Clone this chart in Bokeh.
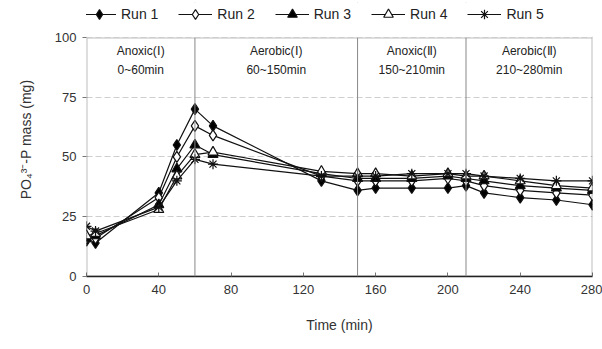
from bokeh.plotting import figure
from bokeh.models import Span, Label, Legend, LegendItem, FixedTicker, Range1d, ColumnDataSource, BoxAnnotation
from bokeh.embed import file_html
from bokeh.resources import INLINE

time = [0, 5, 40, 50, 60, 70, 130, 150, 160, 180, 200, 210, 220, 240, 260, 280]
run1 = [15, 14, 35, 55, 70, 63, 40, 36, 37, 37, 37, 38, 35, 33, 32, 30]
run2 = [16, 16, 33, 50, 63, 59, 42, 40, 40, 40, 41, 40, 38, 36, 35, 34]
run3 = [16, 17, 30, 45, 55, 51, 43, 41, 41, 41, 42, 41, 40, 38, 37, 36]
run4 = [17, 18, 28, 42, 51, 52, 44, 43, 43, 42, 43, 42, 42, 40, 38, 37]
run5 = [21, 19, 29, 40, 49, 47, 42, 42, 42, 43, 43, 43, 42, 41, 40, 40]
series_names = ["Run 1", "Run 2", "Run 3", "Run 4", "Run 5"]
phase_bounds = [60, 150, 210]
phase_names = ["Anoxic(Ⅰ)", "Aerobic(Ⅰ)", "Anoxic(Ⅱ)", "Aerobic(Ⅱ)"]
phase_times = ["0~60min", "60~150min", "150~210min", "210~280min"]
phase_centers = [30, 105, 180, 245]
x_ticks = [0, 40, 80, 120, 160, 200, 240, 280]
y_ticks = [0, 25, 50, 75, 100]
y_max = 100

FONT = "Liberation Sans"

p = figure(width=602, height=349, output_backend="svg", toolbar_location=None,
           x_range=Range1d(0, 280), y_range=Range1d(0, 114.6),
           min_border_left=86, min_border_right=10, min_border_top=2, min_border_bottom=73)
p.outline_line_color = None
p.background_fill_color = "white"
p.border_fill_color = "white"

p.xgrid.grid_line_color = None
p.ygrid.grid_line_color = "#cfcfcf"
p.ygrid.grid_line_dash = "6 3"
p.xaxis.ticker = FixedTicker(ticks=x_ticks)
p.yaxis.ticker = FixedTicker(ticks=y_ticks)
p.xaxis.major_tick_in = 4
p.xaxis.major_tick_out = 0
p.yaxis.major_tick_in = 0
p.yaxis.major_tick_out = 4
p.xaxis.minor_tick_line_color = None
p.yaxis.minor_tick_line_color = None
for ax in (p.xaxis, p.yaxis):
    ax.axis_line_color = "#222222"
    ax.axis_line_width = 1.5
    ax.major_tick_line_color = "#777777"
    ax.major_label_text_font = FONT
    ax.major_label_text_font_size = "13px"
    ax.major_label_text_color = "#333333"
    ax.axis_label_text_font = FONT
    ax.axis_label_text_font_size = "14px"
    ax.axis_label_text_font_style = "normal"
    ax.axis_label_text_color = "#333333"
p.yaxis.axis_line_color = None
p.xaxis.major_label_standoff = 8
p.yaxis.major_label_standoff = 6
p.xaxis.axis_label = "Time (min)"
p.xaxis.axis_label_standoff = 20
p.yaxis.axis_label = "PO₄³⁻-P mass (mg)"
p.yaxis.axis_label_standoff = 18

p.add_layout(BoxAnnotation(left=0, right=280, bottom=0, top=y_max, fill_alpha=0,
                           line_color="#222222", line_width=2))

for b in phase_bounds:
    p.add_layout(Span(location=b, dimension="height", line_color="#888888", line_width=1))
p.add_layout(BoxAnnotation(bottom=y_max, fill_color="white", fill_alpha=1, line_alpha=0))

for c, n, t in zip(phase_centers, phase_names, phase_times):
    p.add_layout(Label(x=c, y=94.5, text=n, text_align="center", text_baseline="middle",
                       text_font=FONT, text_font_size="12px", text_color="#222222"))
    p.add_layout(Label(x=c, y=86.5, text=t, text_align="center", text_baseline="middle",
                       text_font=FONT, text_font_size="12px", text_color="#222222"))

src = ColumnDataSource(dict(t=time, r1=run1, r2=run2, r3=run3, r4=run4, r5=run5))
styles = [
    ("r1", "diamond", "black", 11),
    ("r2", "diamond", "white", 11),
    ("r3", "triangle", "black", 10),
    ("r4", "triangle", "white", 10),
    ("r5", "asterisk", "black", 10),
]
items = []
for (col, mk, fill, sz), name in zip(styles, series_names):
    ln = p.line("t", col, source=src, line_color="#111111", line_width=1.2)
    sc = p.scatter("t", col, source=src, marker=mk, size=sz, fill_color=fill,
                   line_color="#111111", line_width=1.2)
    items.append(LegendItem(label=name, renderers=[ln, sc]))

legend = Legend(items=items, orientation="horizontal", location=(-4, 250),
                border_line_color=None, background_fill_alpha=0,
                label_text_font=FONT, label_text_font_size="14px", label_text_color="#222222",
                glyph_width=34, glyph_height=24, label_standoff=5, spacing=20,
                padding=0, margin=0)
p.add_layout(legend, "center")

open("out.html", "w").write(file_html(p, INLINE))
